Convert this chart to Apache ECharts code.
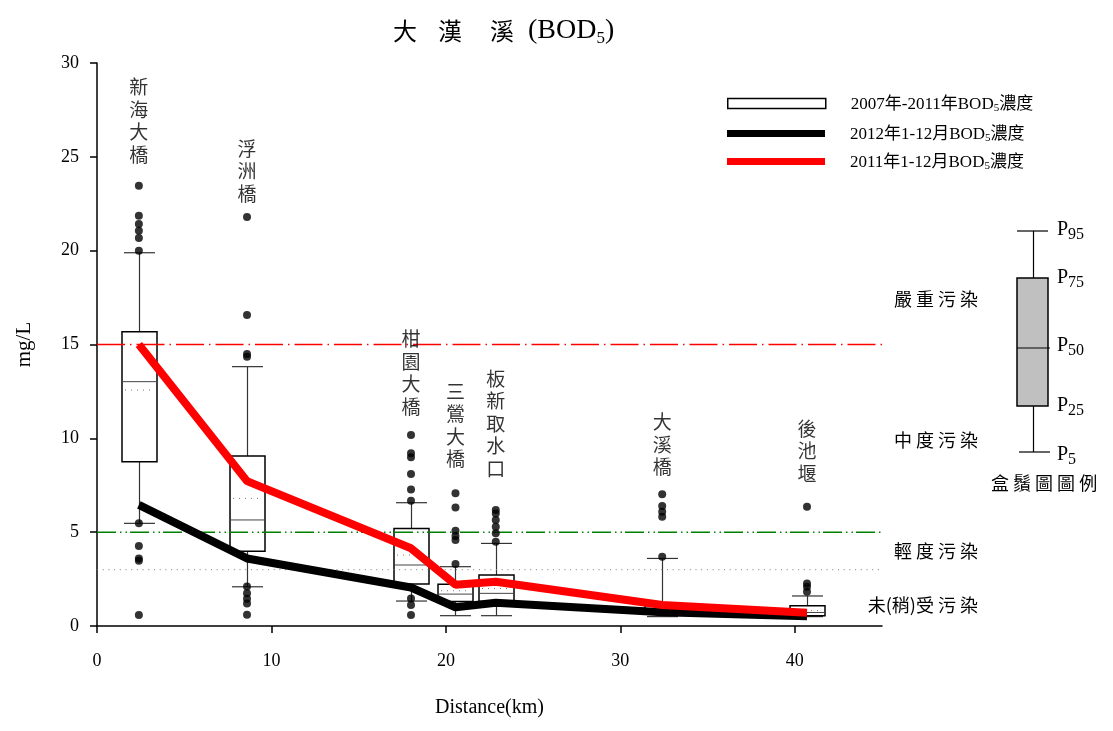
<!DOCTYPE html>
<html>
<head>
<meta charset="utf-8">
<script src="https://cdn.jsdelivr.net/npm/echarts@6/dist/echarts.min.js"></script>
<style>
  html, body { margin: 0; padding: 0; background: #fff; }
  #chart { width: 1113px; height: 731px; }
</style>
</head>
<body>
<div id="chart"></div>
<script>
// Monitoring stations along the river and their distance downstream (km)
const stationNames = ['新海大橋', '浮洲橋', '柑園大橋', '三鶯大橋', '板新取水口', '大溪橋', '後池堰'];
const stationKm = [2.4, 8.6, 18.0, 20.55, 22.86, 32.4, 40.7];

// 2007-2011 BOD5 distribution per station (mg/L)
const p5 = [5.47, 2.09, 1.33, 0.55, 0.55, 0.50, 0.50];
const p25 = [8.75, 3.98, 2.24, 1.30, 1.30, 0.80, 0.55];
const p50 = [13.02, 5.65, 3.25, 1.70, 1.74, 0.92, 0.72];
const p75 = [15.68, 9.06, 5.20, 2.22, 2.72, 1.21, 1.08];
const p95 = [19.89, 13.82, 6.57, 3.16, 4.40, 3.60, 1.60];
const meanVals = [12.57, 6.80, 3.78, 1.88, 2.00, 1.12, 0.82];

// Values outside the P5-P95 range
const outliers = [
  [23.46, 21.86, 21.42, 21.06, 20.67, 20.0, 5.47, 4.26, 3.60, 3.48, 0.59],
  [21.8, 16.57, 14.5, 14.35, 2.1, 1.75, 1.45, 1.2, 0.6],
  [10.18, 9.2, 8.99, 8.1, 7.28, 6.68, 1.47, 1.12, 0.59],
  [7.07, 6.32, 5.08, 4.8, 4.58, 3.3],
  [6.18, 6.0, 5.65, 5.29, 4.94, 4.49],
  [7.02, 6.39, 6.09, 5.82, 3.69],
  [6.36, 2.27, 2.09, 1.83]
];

// Yearly BOD5 (mg/L)
const bod2012 = [6.45, 3.6, 2.05, 1.0, 1.24, 0.73, 0.52];
const bod2011 = [15.0, 7.72, 4.14, 2.2, 2.36, 1.12, 0.71];

// Pollution class thresholds (mg/L)
const thresholdSevere = 15;
const thresholdModerate = 5;
const thresholdLight = 3;

const xTicks = [0, 10, 20, 30, 40];
const xMax = 45;

const nameBox = '2007年-2011年BOD5濃度';
const name2012 = '2012年1-12月BOD5濃度';
const name2011 = '2011年1-12月BOD5濃度';

const SERIF = "'Liberation Serif', 'Times New Roman', 'Noto Sans CJK TC', serif";
const CJK = "'Noto Sans CJK TC', 'Liberation Serif', serif";
const BOX_W = 35;
const CAP_W = 31;
// gap in px between each station caption and its highest point
const captionGap = [20, 12, 17, 23, 30, 16, 22];

const boxData = stationKm.map((km, i) => [km, p5[i], p25[i], p50[i], p75[i], p95[i], meanVals[i]]);
const outlierData = outliers.flatMap((arr, i) => arr.map(v => [stationKm[i], v]));
const labelData = stationNames.map((n, i) => ({
  value: [stationKm[i], Math.max(...outliers[i])], name: n,
  label: { distance: captionGap[i] }
}));

function renderBox(params, api) {
  const km = api.value(0);
  const pt = k => api.coord([km, api.value(k)]);
  const c5 = pt(1), c25 = pt(2), c50 = pt(3), c75 = pt(4), c95 = pt(5), cm = pt(6);
  const x = Math.round(c50[0]) + 0.5;
  const hw = BOX_W / 2, cw = CAP_W / 2;
  const whisk = { stroke: '#333', lineWidth: 1.2 };
  return {
    type: 'group',
    children: [
      { type: 'line', shape: { x1: x, y1: c95[1], x2: x, y2: c75[1] }, style: whisk },
      { type: 'line', shape: { x1: x, y1: c25[1], x2: x, y2: c5[1] }, style: whisk },
      { type: 'line', shape: { x1: x - cw, y1: c95[1], x2: x + cw, y2: c95[1] }, style: whisk },
      { type: 'line', shape: { x1: x - cw, y1: c5[1], x2: x + cw, y2: c5[1] }, style: whisk },
      { type: 'rect', shape: { x: x - hw, y: c75[1], width: BOX_W, height: c25[1] - c75[1] },
        style: { fill: 'none', stroke: '#000', lineWidth: 1.5 } },
      { type: 'line', shape: { x1: x - hw, y1: c50[1], x2: x + hw, y2: c50[1] }, style: { stroke: '#444', lineWidth: 1 } },
      { type: 'line', shape: { x1: x - hw + 3, y1: cm[1], x2: x + hw - 3, y2: cm[1] },
        style: { stroke: '#777', lineWidth: 1, lineDash: [1, 5] } }
    ]
  };
}

function subFmt(name) {
  return name.replace('BOD5', 'BOD{sub|5}');
}

const legendText = {
  fontFamily: SERIF, fontSize: 17, color: '#000', padding: [2, 0, 0, 20],
  rich: { sub: { fontFamily: SERIF, fontSize: 11, padding: [8, 0, 0, 0] } }
};

function hLine(value) {
  return [[0, value], [xMax, value]];
}

const pLabelRich = {
  p: { fontFamily: SERIF, fontSize: 20, color: '#000' },
  s: { fontFamily: SERIF, fontSize: 16, color: '#000', padding: [9, 0, 0, 0] }
};

const captionFont = "18px " + CJK;

const chart = echarts.init(document.getElementById('chart'), null, { renderer: 'canvas' });
chart.setOption({
  backgroundColor: '#fff',
  animation: false,
  title: {
    text: '{c|大}   {c|漢}    {c|溪}  (BOD{s|5})',
    left: 388, top: 9,
    textStyle: {
      fontFamily: SERIF, fontSize: 28, fontWeight: 'normal', color: '#000',
      rich: {
        c: { fontFamily: CJK, fontSize: 24, color: '#000' },
        s: { fontFamily: SERIF, fontSize: 17, padding: [16, 0, 0, 0] }
      }
    }
  },
  grid: { left: 97, right: 231, top: 63, bottom: 105, containLabel: false },
  legend: [
    { left: 727, top: 96, padding: 0, itemWidth: 98, itemHeight: 10, selectedMode: false, formatter: subFmt,
      textStyle: legendText,
      data: [{ name: nameBox, icon: 'rect', itemStyle: { color: '#fff', borderColor: '#000', borderWidth: 1.5 } }] },
    { left: 727, top: 126, padding: 0, itemWidth: 98, itemHeight: 7, selectedMode: false, formatter: subFmt,
      textStyle: legendText,
      data: [{ name: name2012, icon: 'rect', itemStyle: { color: '#000' } }] },
    { left: 727, top: 154, padding: 0, itemWidth: 98, itemHeight: 7, selectedMode: false, formatter: subFmt,
      textStyle: legendText,
      data: [{ name: name2011, icon: 'rect', itemStyle: { color: '#ff0000' } }] }
  ],
  xAxis: {
    type: 'value', min: 0, max: xMax,
    name: 'Distance(km)', nameLocation: 'middle', nameGap: 72,
    nameTextStyle: { fontFamily: SERIF, fontSize: 20, color: '#000' },
    axisLine: { lineStyle: { color: '#000', width: 1.5 } },
    axisTick: { inside: false, length: 7, lineStyle: { color: '#000', width: 1.5 }, customValues: xTicks },
    axisLabel: { fontFamily: SERIF, fontSize: 18, color: '#000', margin: 26, customValues: xTicks },
    splitLine: { show: false }
  },
  yAxis: {
    type: 'value', min: 0, max: 30, interval: 5,
    name: 'mg/L', nameLocation: 'middle', nameGap: 62, nameRotate: 90,
    nameTextStyle: { fontFamily: SERIF, fontSize: 21, color: '#000' },
    axisLine: { show: true, lineStyle: { color: '#000', width: 1.5 } },
    axisTick: { show: true, inside: false, length: 7, lineStyle: { color: '#000', width: 1.5 } },
    axisLabel: { fontFamily: SERIF, fontSize: 18, color: '#000', margin: 18 },
    splitLine: { show: false }
  },
  series: [
    {
      name: nameBox, type: 'custom', renderItem: renderBox, data: boxData, z: 2,
      encode: { x: 0, y: [1, 2, 3, 4, 5] },
      itemStyle: { color: '#fff', borderColor: '#000' }
    },
    {
      type: 'line', data: hLine(thresholdSevere), symbol: 'none', z: 3, silent: true,
      lineStyle: { color: '#ff0000', width: 1.5, type: [28, 5, 1.5, 5] }
    },
    {
      type: 'line', data: hLine(thresholdModerate), symbol: 'none', z: 3, silent: true,
      lineStyle: { color: '#008000', width: 1.5, type: [19, 4, 1.5, 4, 1.5, 3] }
    },
    {
      type: 'line', data: hLine(thresholdLight), symbol: 'none', z: 3, silent: true,
      lineStyle: { color: '#777', width: 1, type: [1, 4.7] }
    },
    {
      name: name2012, type: 'line', data: stationKm.map((km, i) => [km, bod2012[i]]),
      symbol: 'none', z: 4, color: '#000',
      lineStyle: { color: '#000', width: 8 }
    },
    {
      name: name2011, type: 'line', data: stationKm.map((km, i) => [km, bod2011[i]]),
      symbol: 'none', z: 5, color: '#ff0000',
      lineStyle: { color: '#ff0000', width: 8 }
    },
    {
      type: 'scatter', data: outlierData, symbol: 'circle', symbolSize: 8, z: 6,
      itemStyle: { color: '#000' }
    },
    {
      type: 'scatter', data: labelData, symbolSize: 0, z: 6, silent: true,
      label: {
        show: true, position: 'top',
        formatter: p => p.name.split('').join('\n'),
        fontFamily: CJK, fontSize: 19, lineHeight: 22.5, color: '#000'
      }
    }
  ],
  graphic: [
    // pollution class captions
    { type: 'text', right: 1113 - 978, top: 290, style: { text: '嚴 重 污 染', font: captionFont, fill: '#000' } },
    { type: 'text', right: 1113 - 978, top: 431, style: { text: '中 度 污 染', font: captionFont, fill: '#000' } },
    { type: 'text', right: 1113 - 978, top: 542, style: { text: '輕 度 污 染', font: captionFont, fill: '#000' } },
    { type: 'text', right: 1113 - 978, top: 596, style: { text: '未(稍)受 污 染', font: captionFont, fill: '#000' } },
    // box-plot key
    { type: 'line', shape: { x1: 1033.5, y1: 231, x2: 1033.5, y2: 278 }, style: { stroke: '#000', lineWidth: 1.2 } },
    { type: 'line', shape: { x1: 1033.5, y1: 406, x2: 1033.5, y2: 452 }, style: { stroke: '#000', lineWidth: 1.2 } },
    { type: 'line', shape: { x1: 1017, y1: 231, x2: 1048, y2: 231 }, style: { stroke: '#000', lineWidth: 1.2 } },
    { type: 'line', shape: { x1: 1019, y1: 452, x2: 1050, y2: 452 }, style: { stroke: '#000', lineWidth: 1.2 } },
    { type: 'rect', shape: { x: 1017, y: 278, width: 31, height: 128 }, style: { fill: '#c0c0c0', stroke: '#000', lineWidth: 1.5 } },
    { type: 'line', shape: { x1: 1017, y1: 348, x2: 1050, y2: 348 }, style: { stroke: '#000', lineWidth: 1 } },
    { type: 'text', left: 1057, top: 220, style: { text: '{p|P}{s|95}', rich: pLabelRich } },
    { type: 'text', left: 1057, top: 268, style: { text: '{p|P}{s|75}', rich: pLabelRich } },
    { type: 'text', left: 1057, top: 336, style: { text: '{p|P}{s|50}', rich: pLabelRich } },
    { type: 'text', left: 1057, top: 396, style: { text: '{p|P}{s|25}', rich: pLabelRich } },
    { type: 'text', left: 1057, top: 445, style: { text: '{p|P}{s|5}', rich: pLabelRich } },
    { type: 'text', left: 991, top: 474, style: { text: '盒 鬚 圖 圖 例', font: captionFont, fill: '#000' } }
  ]
});
</script>
</body>
</html>
